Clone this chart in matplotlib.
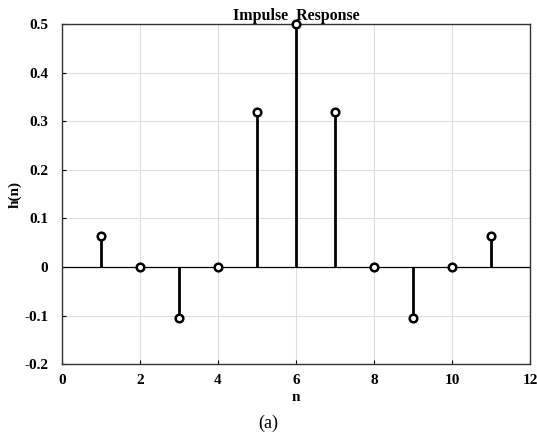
import numpy as np
import matplotlib
matplotlib.use("Agg")
import matplotlib.pyplot as plt

# impulse response samples
n = [1, 2, 3, 4, 5, 6, 7, 8, 9, 10, 11]
h = [0.064, 0.0, -0.106, 0.0, 0.318, 0.5, 0.318, 0.0, -0.106, 0.0, 0.064]

plt.rcParams['font.family'] = ['Liberation Serif', 'DejaVu Serif']

fig = plt.figure(figsize=(5.37, 4.34), dpi=100)
ax = fig.add_axes([0.1155, 0.161, 0.8715, 0.7837])

markerline, stemlines, baseline = ax.stem(n, h, linefmt='k-', markerfmt='ko', basefmt='k-')
plt.setp(stemlines, linewidth=2.0)
plt.setp(markerline, markersize=5.5, markerfacecolor='white', markeredgecolor='black',
         markeredgewidth=1.8, clip_on=False, zorder=5)
plt.setp(baseline, linewidth=0.9, xdata=[0, 12])

ax.set_xlim(0, 12)
ax.set_ylim(-0.2, 0.5)
ax.set_xticks(np.arange(0, 13, 2))
ax.set_yticks(np.arange(-0.2, 0.51, 0.1))
ax.set_yticklabels(['-0.2', '-0.1', '0', '0.1', '0.2', '0.3', '0.4', '0.5'])
ax.grid(True, color='#dddddd', linewidth=0.8)
ax.set_axisbelow(True)
ax.tick_params(direction='in', length=3, labelsize=11, width=0.8)
ax.tick_params(axis='y', pad=10)
ax.tick_params(axis='x', pad=7)
for lbl in ax.get_xticklabels() + ax.get_yticklabels():
    lbl.set_fontweight('bold')
for s in ax.spines.values():
    s.set_linewidth(1.0)
    s.set_color('#333333')

ax.set_title('Impulse  Response', fontsize=11.5, fontweight='bold', pad=2, zorder=1)
ax.set_xlabel('n', fontsize=11, fontweight='bold', labelpad=3)
ax.set_ylabel('h(n)', fontsize=11, fontweight='bold', labelpad=2)
fig.text(0.5, 0.005, '(a)', ha='center', va='bottom', fontsize=13)

fig.savefig('out.png', dpi=100)
